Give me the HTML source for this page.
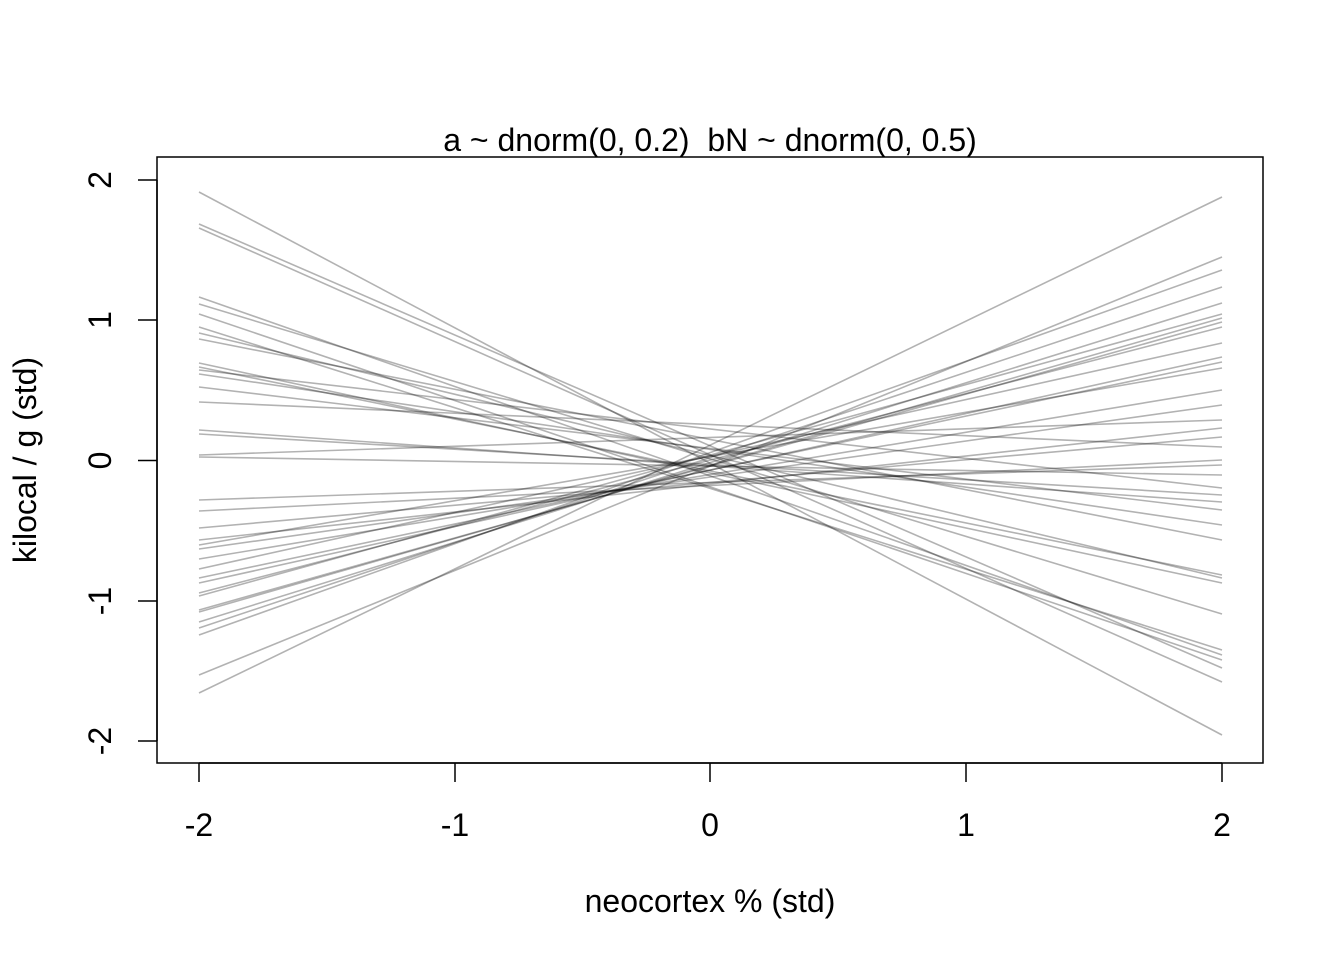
<!DOCTYPE html>
<html><head><style>body{margin:0;background:#fff}svg text{font-family:"Liberation Sans",sans-serif;fill:#000}</style></head><body>
<svg width="1344" height="960" viewBox="0 0 1344 960" xmlns="http://www.w3.org/2000/svg">
<rect width="1344" height="960" fill="#fff"/>
<g stroke="rgba(0,0,0,0.3)" stroke-width="1.6" fill="none">
<line x1="199" y1="192" x2="1222" y2="735"/>
<line x1="199" y1="224" x2="1222" y2="668"/>
<line x1="199" y1="228" x2="1222" y2="682"/>
<line x1="199" y1="297" x2="1222" y2="655"/>
<line x1="199" y1="304" x2="1222" y2="614"/>
<line x1="199" y1="314" x2="1222" y2="660"/>
<line x1="199" y1="327" x2="1222" y2="650"/>
<line x1="199" y1="333" x2="1222" y2="578"/>
<line x1="199" y1="339" x2="1222" y2="540"/>
<line x1="199" y1="363" x2="1222" y2="583"/>
<line x1="199" y1="367" x2="1222" y2="575"/>
<line x1="199" y1="370" x2="1222" y2="488"/>
<line x1="199" y1="374" x2="1222" y2="525"/>
<line x1="199" y1="387" x2="1222" y2="510"/>
<line x1="199" y1="402" x2="1222" y2="447"/>
<line x1="199" y1="430" x2="1222" y2="502"/>
<line x1="199" y1="434" x2="1222" y2="495"/>
<line x1="199" y1="455" x2="1222" y2="420"/>
<line x1="199" y1="457" x2="1222" y2="475"/>
<line x1="199" y1="500" x2="1222" y2="465"/>
<line x1="199" y1="511" x2="1222" y2="460"/>
<line x1="199" y1="528" x2="1222" y2="437"/>
<line x1="199" y1="540" x2="1222" y2="428"/>
<line x1="199" y1="545" x2="1222" y2="368"/>
<line x1="199" y1="549" x2="1222" y2="405"/>
<line x1="199" y1="559" x2="1222" y2="390"/>
<line x1="199" y1="569" x2="1222" y2="343"/>
<line x1="199" y1="578" x2="1222" y2="362"/>
<line x1="199" y1="583" x2="1222" y2="357"/>
<line x1="199" y1="593" x2="1222" y2="327"/>
<line x1="199" y1="596" x2="1222" y2="314"/>
<line x1="199" y1="610" x2="1222" y2="322"/>
<line x1="199" y1="612" x2="1222" y2="318"/>
<line x1="199" y1="622" x2="1222" y2="303"/>
<line x1="199" y1="628" x2="1222" y2="287"/>
<line x1="199" y1="635" x2="1222" y2="270"/>
<line x1="199" y1="675" x2="1222" y2="257"/>
<line x1="199" y1="693" x2="1222" y2="197"/>
</g>
<rect x="157" y="157" width="1106" height="606" fill="none" stroke="#000" stroke-width="1.5"/>
<g stroke="#000" stroke-width="1.5">
<line x1="199" y1="763" x2="1222" y2="763"/>
<line x1="199" y1="763" x2="199" y2="782"/><line x1="455" y1="763" x2="455" y2="782"/><line x1="710" y1="763" x2="710" y2="782"/><line x1="966" y1="763" x2="966" y2="782"/><line x1="1222" y1="763" x2="1222" y2="782"/>
<line x1="157" y1="180" x2="157" y2="741"/>
<line x1="138" y1="180" x2="157" y2="180"/><line x1="138" y1="320" x2="157" y2="320"/><line x1="138" y1="460.5" x2="157" y2="460.5"/><line x1="138" y1="601" x2="157" y2="601"/><line x1="138" y1="741" x2="157" y2="741"/>
</g>
<g font-size="32" text-anchor="middle">
<text x="199" y="836">-2</text><text x="455" y="836">-1</text><text x="710" y="836">0</text><text x="966" y="836">1</text><text x="1222" y="836">2</text>
<text transform="translate(111,180) rotate(-90)">2</text>
<text transform="translate(111,320) rotate(-90)">1</text>
<text transform="translate(111,460.5) rotate(-90)">0</text>
<text transform="translate(111,601) rotate(-90)">-1</text>
<text transform="translate(111,741) rotate(-90)">-2</text>
<text x="710" y="912">neocortex % (std)</text>
<text transform="translate(36,460) rotate(-90)">kilocal / g (std)</text>
<text x="710" y="151">a ~ dnorm(0, 0.2)&#160; bN ~ dnorm(0, 0.5)</text>
</g>
</svg>
</body></html>
